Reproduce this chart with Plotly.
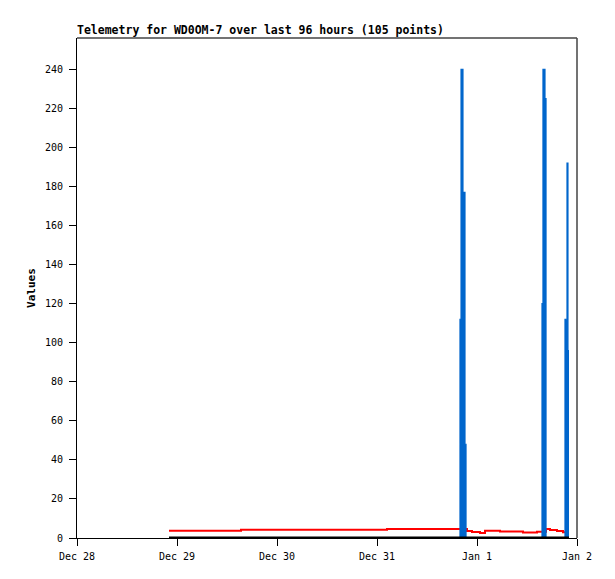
import plotly.graph_objects as go

# Red telemetry channel (step values)
red_times = [
    "2024-12-28 22:05", "2024-12-29 15:22", "2024-12-31 02:24", "2024-12-31 19:55",
    "2024-12-31 21:36", "2024-12-31 22:48", "2025-01-01 00:43", "2025-01-01 01:55",
    "2025-01-01 05:31", "2025-01-01 11:02", "2025-01-01 14:24", "2025-01-01 15:36",
    "2025-01-01 16:34", "2025-01-01 17:31", "2025-01-01 19:12", "2025-01-01 20:38",
    "2025-01-01 21:36", "2025-01-01 22:05",
]
red_values = [3.7, 4.2, 4.6, 4.6, 3.6, 3.1, 2.6, 3.7, 3.3, 2.8, 3.2, 3.2,
              4.6, 4.1, 3.6, 3.0, 5.3, 5.3]

# Blue telemetry channel (bursts)
blue_times = [
    "2024-12-28 22:05", "2024-12-31 19:55", "2024-12-31 20:10", "2024-12-31 20:38",
    "2024-12-31 21:07", "2024-12-31 21:22", "2025-01-01 15:36", "2025-01-01 15:50",
    "2025-01-01 16:19", "2025-01-01 16:34", "2025-01-01 21:07", "2025-01-01 21:36",
    "2025-01-01 21:50", "2025-01-01 22:05",
]
blue_values = [0, 112, 240, 177, 48, 0, 120, 240, 225, 0, 112, 192, 96, 96]

# Black telemetry channel (always zero)
black_times = ["2024-12-28 22:05", "2025-01-01 22:05"]
black_values = [0, 0]

x_range = ["2024-12-28", "2025-01-02"]
y_range = [0, 256]
title_text = "Telemetry for WD0OM-7 over last 96 hours (105 points)"
y_title = "Values"

mono = "DejaVu Sans Mono"

fig = go.Figure()
fig.add_trace(go.Scatter(x=red_times, y=red_values, mode="lines",
                         line=dict(color="#ff0000", width=2, shape="hv"),
                         showlegend=False, hoverinfo="x+y"))
fig.add_trace(go.Scatter(x=blue_times, y=blue_values, mode="lines",
                         line=dict(color="#0066cc", width=1.2, shape="hv"),
                         fill="tozeroy", fillcolor="#0066cc",
                         showlegend=False, hoverinfo="x+y"))
fig.add_trace(go.Scatter(x=black_times, y=black_values, mode="lines",
                         line=dict(color="#000000", width=3),
                         showlegend=False, hoverinfo="x+y"))

fig.update_layout(
    width=615, height=579,
    margin=dict(l=69, r=46, t=30, b=49, autoexpand=False),
    paper_bgcolor="white", plot_bgcolor="white",
    title=dict(text=title_text, xref="paper", x=0, xanchor="left",
               yref="container", y=1 - 22 / 579, yanchor="middle",
               font=dict(family=mono, size=11.5, color="black", weight="bold")),
    xaxis=dict(type="date", range=x_range, dtick=86400000, tickformat="%b %-d",
               ticks="outside", ticklen=7, tickcolor="black", tickwidth=1,
               showline=True, linecolor="black", linewidth=1,
               showgrid=False, zeroline=False, ticklabelstandoff=2,
               tickfont=dict(family=mono, size=10, color="black")),
    yaxis=dict(range=y_range, dtick=20, tick0=0,
               ticks="outside", ticklen=7, tickcolor="black", tickwidth=1,
               showline=True, linecolor="black", linewidth=1,
               showgrid=False, zeroline=False, ticklabelstandoff=4,
               tickfont=dict(family=mono, size=10, color="black"),
               title=dict(text=y_title, standoff=7,
                          font=dict(family=mono, size=11, color="black", weight="bold"))),
    shapes=[
        dict(type="line", xref="paper", yref="paper", x0=0, x1=1, y0=1, y1=1,
             line=dict(color="#444444", width=1.5)),
        dict(type="line", xref="paper", yref="paper", x0=1, x1=1, y0=0, y1=1,
             line=dict(color="#444444", width=1.5)),
    ],
)

fig.write_html("out.html")
